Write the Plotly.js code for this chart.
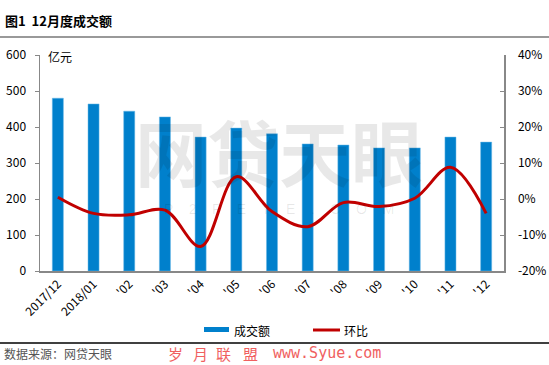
<!DOCTYPE html>
<html><head><meta charset="utf-8">
<script src="https://cdn.plot.ly/plotly-3.0.1.min.js"></script>
<style>html,body{margin:0;padding:0;background:#fff}#c{width:549px;height:365px}</style>
</head><body><div id="c"></div>
<script>
const categories = ['2017/12','2018/01',"'02","'03","'04","'05","'06","'07","'08","'09","'10","'11","'12"];
const volume = [480,464,444,428,372,397,381,353,350,342,342,372,358];
const mom = [0.5,-4.0,-4.4,-3.1,-13.2,6.2,-3.5,-7.7,-1.0,-2.1,0.2,8.8,-4.0];
const leftTicks = [0,100,200,300,400,500,600];
const rightTicks = [-20,-10,0,10,20,30,40];
const seriesNames = ['成交额','环比'];

const font = "'Noto Sans CJK SC', 'Liberation Sans', sans-serif";
const BLUE = '#0080CC', RED = '#C00000';
const traces = [
  {type:'bar', x:categories, y:volume, name:seriesNames[0], showlegend:false, marker:{color:BLUE, line:{color:'#6BB8E6', width:0.5}}, width:0.31},
  {type:'scatter', mode:'lines', x:categories, y:mom, yaxis:'y2', name:seriesNames[1], showlegend:false, line:{color:RED, width:3, shape:'spline', smoothing:1}}
];

// plot area: x 40..504, y 55..271
const px = v => (v-40)/464;
const py = v => (271-v)/216;

const wmAnn = [
  {text:'<b>网贷天眼</b>', xref:'paper', yref:'paper', x:px(279), y:py(149), xanchor:'center', yanchor:'middle', showarrow:false, borderpad:0, font:{size:72, color:'rgba(0,0,0,0.09)', family:font}},
  {text:'P    2    P    E    Y    E    .    C    O    M', xref:'paper', yref:'paper', x:px(279), y:py(209), xanchor:'center', yanchor:'middle', showarrow:false, borderpad:0, font:{size:14, color:'rgba(0,0,0,0.09)', family:"'Liberation Sans', sans-serif"}}
];
const footChars = ['岁','月','联','盟'];
const footX = [175,200,223,250];
const footAnn = footChars.map((c,i)=>({text:c, xref:'paper', yref:'paper', x:px(footX[i]), y:py(353), xanchor:'center', yanchor:'middle', showarrow:false, borderpad:0, font:{size:15, color:'#F06060', family:font}}));

const layout = {
  width:549, height:365,
  margin:{l:40, r:45, t:55, b:94},
  paper_bgcolor:'#fff', plot_bgcolor:'#fff',
  font:{family:font, size:12, color:'#000'},
  showlegend:false,
  bargap:0.69,
  xaxis:{type:'category', tickangle:-45, showgrid:false, showline:true, linecolor:'#888', linewidth:1.5, ticks:'', tickfont:{size:12}, zeroline:false},
  yaxis:{range:[0,600], tickvals:leftTicks, ticks:'outside', ticklen:4, tickcolor:'#888', showline:true, linecolor:'#888', linewidth:1.5, showgrid:false, zeroline:false, tickfont:{size:12}, ticklabelstandoff:6},
  yaxis2:{range:[-20,40], tickvals:rightTicks, ticktext:rightTicks.map(v=>v+'%'), overlaying:'y', side:'right', ticks:'inside', ticklen:4, tickcolor:'#888', showline:true, linecolor:'#888', linewidth:1.5, showgrid:false, zeroline:false, tickfont:{size:12}, ticklabelstandoff:10},
  shapes:[
    {type:'line', xref:'paper', yref:'paper', x0:px(0), x1:px(549), y0:py(37), y1:py(37), line:{color:'#777', width:1.5}},
    {type:'line', xref:'paper', yref:'paper', x0:px(0), x1:px(549), y0:py(343), y1:py(343), line:{color:'#000', width:1.5}},
    {type:'rect', xref:'paper', yref:'paper', x0:px(204), x1:px(229), y0:py(332), y1:py(327), fillcolor:BLUE, line:{width:0}},
    {type:'line', xref:'paper', yref:'paper', x0:px(313), x1:px(340), y0:py(330), y1:py(330), line:{color:RED, width:3}}
  ],
  annotations:[
    {text:'<b>图1  12月度成交额</b>', xref:'paper', yref:'paper', x:px(3), y:py(20), xanchor:'left', yanchor:'middle', showarrow:false, font:{size:13, color:'#000'}},
    {text:'亿元', xref:'paper', yref:'paper', x:px(46), y:py(56), xanchor:'left', yanchor:'middle', showarrow:false, font:{size:12, color:'#000'}},
    ...wmAnn,
    {text:seriesNames[0], xref:'paper', yref:'paper', x:px(232), y:py(330), xanchor:'left', yanchor:'middle', showarrow:false, font:{size:12, color:'#000'}},
    {text:seriesNames[1], xref:'paper', yref:'paper', x:px(342), y:py(330), xanchor:'left', yanchor:'middle', showarrow:false, font:{size:12, color:'#000'}},
    {text:'数据来源：网贷天眼', xref:'paper', yref:'paper', x:px(3), y:py(353), xanchor:'left', yanchor:'middle', showarrow:false, borderpad:0, font:{size:12, color:'#555'}},
    ...footAnn,
    {text:'www.Syue.com', xref:'paper', yref:'paper', x:px(272), y:py(353), xanchor:'left', yanchor:'middle', showarrow:false, borderpad:0, font:{size:15, color:'#F06060', family:"'DejaVu Sans Mono', monospace"}}
  ]
};
Plotly.newPlot('c', traces, layout, {displayModeBar:false, staticPlot:true});
</script></body></html>
